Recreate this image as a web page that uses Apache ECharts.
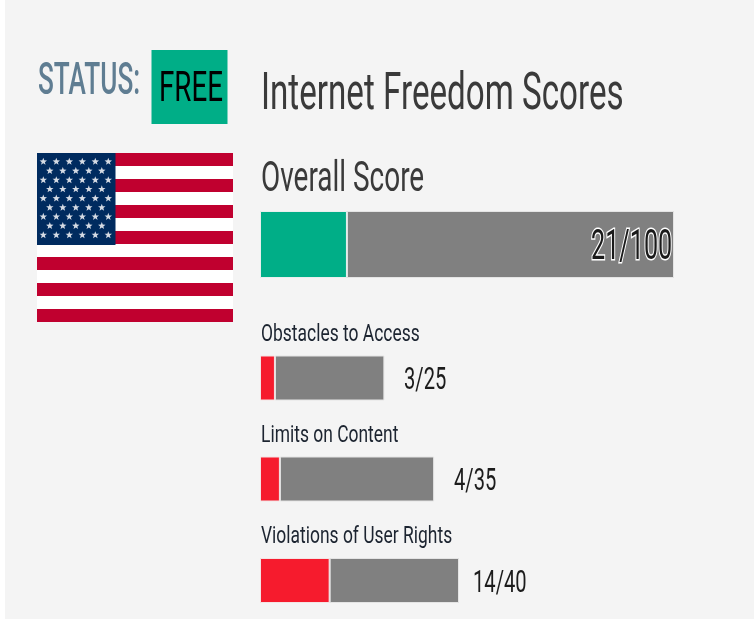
<!DOCTYPE html>
<html>
<head>
<meta charset="utf-8">
<title>Internet Freedom Scores</title>
<script src="https://cdn.jsdelivr.net/npm/echarts@6/dist/echarts.min.js"></script>
<style>
  html, body { margin: 0; padding: 0; background: #fff; }
  #chart { width: 754px; height: 619px; }
</style>
</head>
<body>
<div id="chart"></div>
<script>
const overallName = 'Overall Score'
const overallScore = [21]
const overallMax = [100]
const categories = ['Obstacles to Access', 'Limits on Content', 'Violations of User Rights']
const scores = [3, 4, 14]
const maxScores = [25, 35, 40]

const GREEN = '#00ae87'
const RED = '#f61b2d'
const GREY = '#808080'
const FONT = 'Roboto'

// text is squeezed sideways like the original screenshot
function label (text, x, y, size, scaleX, color, extra) {
  return {
    type: 'text',
    x: x,
    y: y,
    scaleX: scaleX,
    z: 20,
    style: Object.assign({
      text: text,
      fontFamily: FONT,
      fontSize: size,
      fill: color,
      textAlign: 'left',
      textVerticalAlign: 'middle'
    }, extra || {})
  }
}

function star (cx, cy, r) {
  const points = []
  for (let i = 0; i < 10; i++) {
    const rad = i % 2 ? r * 0.42 : r
    const a = -Math.PI / 2 + i * Math.PI / 5
    points.push([cx + rad * Math.cos(a), cy + rad * Math.sin(a)])
  }
  return { type: 'polygon', z: 12, shape: { points: points }, style: { fill: '#d5dbe4' } }
}

function flag () {
  const left = 37
  const top = 153
  const w = 196
  const stripe = 13
  const items = []
  for (let i = 0; i < 13; i++) {
    items.push({
      type: 'rect',
      z: 10,
      shape: { x: left, y: top + i * stripe, width: w, height: stripe },
      style: { fill: i % 2 ? '#ffffff' : '#c0002f' }
    })
  }
  items.push({ type: 'rect', z: 11, shape: { x: left, y: top, width: 78.5, height: 92 }, style: { fill: '#002b5f' } })
  for (let row = 0; row < 9; row++) {
    const n = row % 2 ? 5 : 6
    for (let c = 0; c < n; c++) {
      const x = left + (row % 2 ? 12.8 : 6.3) + c * 13
      items.push(star(x, 161.7 + row * 9.17, 3.9))
    }
  }
  return items
}

// one small grid per sub score, all on the same 0-40 scale
const subTops = [355.5, 456.5, 558]
const valueX = [404, 454, 473]

function subTexts () {
  const items = []
  categories.forEach((name, i) => {
    items.push(label(name, 261, subTops[i] - 21, 24, 0.727, '#1c2430'))
    items.push(label(scores[i] + '/' + maxScores[i], valueX[i], subTops[i] + 25.5, 32, 0.63, '#1c1c1c'))
  })
  return items
}

const chart = echarts.init(document.getElementById('chart'), null, { renderer: 'canvas' })

const subBars = (data, color, border, i) => ({
  type: 'bar',
  xAxisIndex: i + 1,
  yAxisIndex: i + 1,
  stack: 'sub' + i,
  barWidth: 45,
  z: 5,
  itemStyle: { color: color, borderColor: border, borderWidth: 1 },
  data: [data]
})

chart.setOption({
  animation: false,
  backgroundColor: '#ffffff',
  grid: [{ left: 260, top: 211, width: 414, height: 67 }].concat(
    categories.map((name, i) => ({ left: 260, top: subTops[i], width: 199, height: 45 }))
  ),
  xAxis: [{ gridIndex: 0, type: 'value', min: 0, max: overallMax[0], show: false }].concat(
    categories.map((name, i) => ({ gridIndex: i + 1, type: 'value', min: 0, max: 40, show: false }))
  ),
  yAxis: [{ gridIndex: 0, type: 'category', data: [overallName], show: false }].concat(
    categories.map((name, i) => ({ gridIndex: i + 1, type: 'category', data: [name], show: false }))
  ),
  series: [
    {
      type: 'bar',
      xAxisIndex: 0,
      yAxisIndex: 0,
      stack: 'overall',
      barWidth: 67,
      z: 5,
      itemStyle: { color: GREEN, borderColor: '#e9efee', borderWidth: 1 },
      data: overallScore
    },
    {
      type: 'bar',
      xAxisIndex: 0,
      yAxisIndex: 0,
      stack: 'overall',
      barWidth: 67,
      z: 5,
      itemStyle: { color: GREY, borderColor: '#e4e4e4', borderWidth: 1 },
      data: overallScore.map((v, i) => overallMax[i] - v)
    }
  ].concat(
    categories.map((name, i) => subBars(scores[i], RED, '#f3e4e4', i)),
    categories.map((name, i) => subBars(maxScores[i] - scores[i], GREY, '#e4e4e4', i))
  ),
  graphic: {
    elements: [
      // page panel, the screenshot keeps a thin white strip on the left
      { type: 'rect', z: -10, silent: true, shape: { x: 5, y: 0, width: 749, height: 619 }, style: { fill: '#f4f4f4' } },
      { type: 'rect', z: 1, shape: { x: 151.5, y: 50, width: 76, height: 74 }, style: { fill: GREEN } },
      label('STATUS:', 38, 83, 44, 0.595, '#5f7d92', { fontWeight: 500 }),
      label('FREE', 159, 90, 42, 0.66, '#000000'),
      label('Internet Freedom Scores', 261, 96, 52, 0.638, '#3a3a3a'),
      label(overallName, 261, 180, 42, 0.665, '#3a3a3a'),
      label(overallScore[0] + '/' + overallMax[0], 591, 248, 42, 0.6, '#1a1a1a', { stroke: '#ffffff', lineWidth: 3 })
    ].concat(flag(), subTexts())
  }
})
</script>
</body>
</html>
